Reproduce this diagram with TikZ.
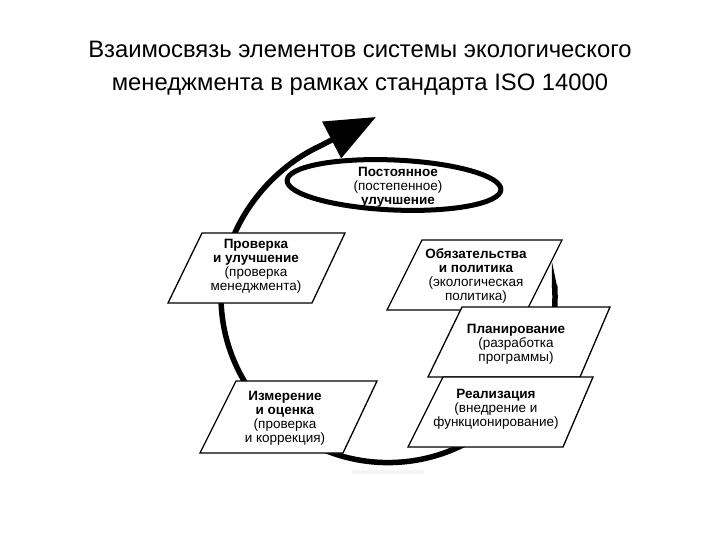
\documentclass[tikz,border=0pt]{standalone}
\usepackage{fontspec}
\setmainfont{Liberation Sans}
\usetikzlibrary{arrows.meta}
\begin{document}
\begin{tikzpicture}[x=1pt,y=-1pt,
  pbox/.style={draw=black, line width=1.3pt, fill=white, line join=miter},
  btxt/.style={align=center, font=\fontsize{13.5}{14}\selectfont, inner sep=0pt},
  loopline/.style={line width=5.5pt}]
\useasboundingbox (0,0) rectangle (720,540);
\node[font=\fontsize{23.8}{33}\selectfont, align=center] (title) at (360,68)
  {Взаимосвязь элементов системы экологического\\менеджмента в рамках стандарта ISO 14000};
% faint artifact
\fill[gray!8] (352,470) rectangle (424,474);
% big loop
\fill (552,262) -- (557.4,288) -- (551.8,288) -- cycle;
\draw[loopline, -{Triangle[length=50pt,width=40pt]}] (554.6,285)
  arc[start angle=-4, end angle=180, x radius=167, y radius=166]
  .. controls (221,228) and (268,170) .. (320,146) -- (376,117);
% ellipse
\draw[line width=5pt, rotate around={-2.5:(394,185)}] (394,185) ellipse [x radius=107, y radius=25];
\node[btxt] (imp) at (398,187.5) {\textbf{Постоянное}\\(постепенное)\\\textbf{улучшение}};
% boxes
\draw[pbox] (202,233) -- (345,233) -- (312,303) -- (168,303) -- cycle;
\node[btxt] (chk) at (256,266) {\textbf{Проверка}\\\textbf{и улучшение}\\(проверка\\менеджмента)};
\draw[pbox] (422,240) -- (562,240) -- (527,310) -- (387,310) -- cycle;
\node[btxt] (pol) at (476,276) {\textbf{Обязательства}\\\textbf{и политика}\\(экологическая\\политика)};
\draw[pbox] (462,307) -- (610,307) -- (580,377) -- (428,377) -- cycle;
\node[btxt] (plan) at (516,344) {\textbf{Планирование}\\(разработка\\программы)};
\draw[pbox] (443,377) -- (593,377) -- (563,447) -- (408,447) -- cycle;
\node[btxt] (real) at (496,409) {\textbf{Реализация}\\(внедрение и\\функционирование)};
\draw[pbox] (236,381) -- (377,381) -- (343,453) -- (200,453) -- cycle;
\node[btxt] (meas) at (285,418) {\textbf{Измерение}\\\textbf{и оценка}\\(проверка\\и коррекция)};
\end{tikzpicture}
\end{document}
